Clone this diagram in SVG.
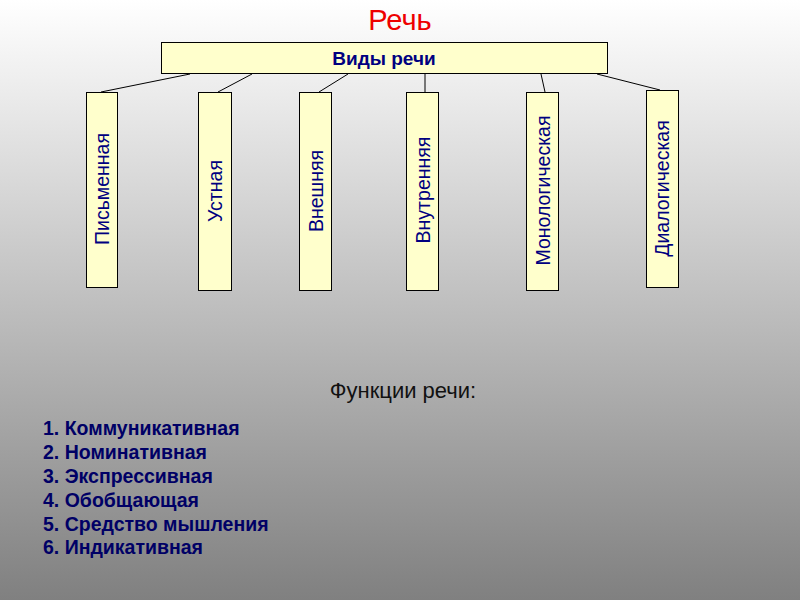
<svg xmlns="http://www.w3.org/2000/svg" width="800" height="600" viewBox="0 0 800 600">
<defs>
<linearGradient id="bg" x1="0" y1="0" x2="0" y2="1">
<stop offset="0" stop-color="#ffffff"/>
<stop offset="1" stop-color="#808080"/>
</linearGradient>
<style>
.box{fill:#ffffcc;stroke:#000;stroke-width:1}
.vt{font-family:"Liberation Sans",Arial,sans-serif;font-size:19.5px;fill:#000080;text-anchor:middle;dominant-baseline:central}
.lst{font-family:"Liberation Sans",Arial,sans-serif;font-size:19.5px;font-weight:bold;fill:#000066}
.conn line{stroke:#000;stroke-width:1}
</style>
</defs>
<rect x="0" y="0" width="800" height="600" fill="url(#bg)"/>
<text x="400" y="30" font-family="'Liberation Sans',Arial,sans-serif" font-size="29" fill="#ee0000" text-anchor="middle">Речь</text>
<g id="conns" class="conn">
<line x1="190" y1="74" x2="101" y2="92"/>
<line x1="252" y1="74" x2="218" y2="92"/>
<line x1="348" y1="74" x2="319" y2="92"/>
<line x1="425" y1="74" x2="425" y2="92"/>
<line x1="541" y1="74" x2="545" y2="92"/>
<line x1="597" y1="74" x2="660" y2="90"/>
</g>
<g id="n-root">
<rect class="box" x="161.5" y="42.5" width="446" height="31"/>
<text x="384" y="65" font-family="'Liberation Sans',Arial,sans-serif" font-size="19" font-weight="bold" fill="#000080" text-anchor="middle">Виды речи</text>
</g>
<g id="n1">
<rect class="box" x="86.5" y="92.5" width="31" height="195"/>
<text class="vt" transform="translate(102,189) rotate(-90)">Письменная</text>
</g>
<g id="n2">
<rect class="box" x="198.5" y="92.5" width="33" height="198"/>
<text class="vt" transform="translate(215,191) rotate(-90)">Устная</text>
</g>
<g id="n3">
<rect class="box" x="299.5" y="92.5" width="32" height="198"/>
<text class="vt" transform="translate(315.5,191) rotate(-90)">Внешняя</text>
</g>
<g id="n4">
<rect class="box" x="406.5" y="92.5" width="32" height="198"/>
<text class="vt" transform="translate(422.5,190) rotate(-90)">Внутренняя</text>
</g>
<g id="n5">
<rect class="box" x="526.5" y="92.5" width="32" height="198"/>
<text class="vt" transform="translate(542.5,190.5) rotate(-90)">Монологическая</text>
</g>
<g id="n6">
<rect class="box" x="646.5" y="90.5" width="32" height="197"/>
<text class="vt" transform="translate(662,188.5) rotate(-90)">Диалогическая</text>
</g>
<text x="403" y="398" font-family="'Liberation Sans',Arial,sans-serif" font-size="22" fill="#111" text-anchor="middle">Функции речи:</text>
<text class="lst" x="43" y="435">1. Коммуникативная</text>
<text class="lst" x="43" y="459">2. Номинативная</text>
<text class="lst" x="43" y="483">3. Экспрессивная</text>
<text class="lst" x="43" y="507">4. Обобщающая</text>
<text class="lst" x="43" y="531">5. Средство мышления</text>
<text class="lst" x="43" y="554">6. Индикативная</text>
</svg>
